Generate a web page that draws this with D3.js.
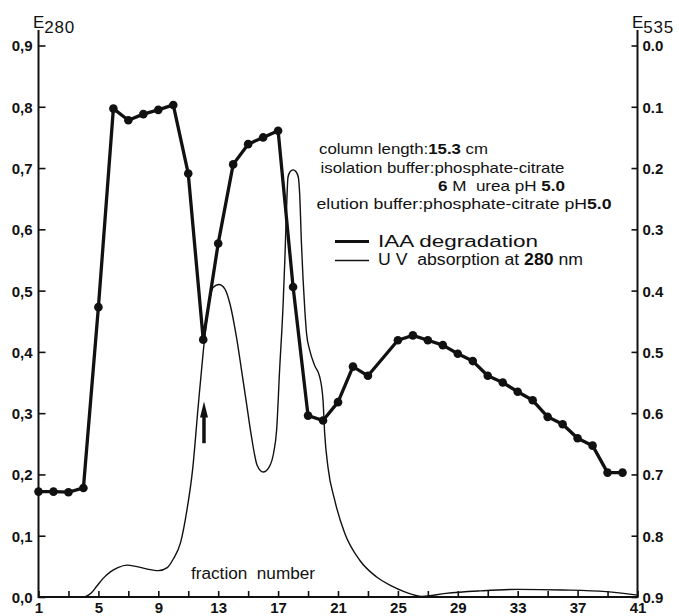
<!DOCTYPE html>
<html><head><meta charset="utf-8">
<script src="https://cdn.jsdelivr.net/npm/d3@7"></script>
<style>
body{margin:0;background:#fff}
svg{display:block}
text{font-family:"Liberation Sans",Arial,sans-serif;fill:#111;white-space:pre}
</style>
</head><body><svg id="c" width="679" height="616"></svg>
<script>
// ---- data ----
const fractionLabelTicks = [1,5,9,13,17,21,25,29,33,37,41];
const fractionMinorTicks = [1,3,5,7,9,11,13,15,17,19,21,23,25,27,29,31,33,35,37,39,41];
const e280Ticks = [0,0.1,0.2,0.3,0.4,0.5,0.6,0.7,0.8,0.9];
const e280Labels = ["0,0","0,1","0,2","0,3","0,4","0,5","0,6","0,7","0,8","0,9"];
const e535Ticks = [0,0.1,0.2,0.3,0.4,0.5,0.6,0.7,0.8,0.9];
const e535Labels = ["0.0","0.1","0.2","0.3","0.4","0.5","0.6","0.7","0.8","0.9"];

// IAA degradation (E535, right axis, inverted)
const iaaFraction = [1,2,3,4,5,6,7,8,9,10,11,12,13,14,15,16,17,18,19,20,21,22,23,25,26,27,28,29,30,31,32,33,34,35,36,37,38,39,40];
const iaaE535 = [0.728,0.728,0.729,0.722,0.427,0.103,0.122,0.112,0.105,0.097,0.209,0.480,0.323,0.194,0.161,0.150,0.139,0.394,0.604,0.612,0.582,0.524,0.539,0.481,0.473,0.481,0.489,0.503,0.515,0.539,0.550,0.565,0.579,0.606,0.618,0.641,0.653,0.697,0.697];

// UV absorption at 280 nm (E280, left axis)
const uvFraction = [4.1,4.5,4.9,5.3,5.8,6.3,6.9,7.5,8.2,9.0,9.6,10.0,10.5,10.9,11.3,11.66,12.0,12.33,12.66,13.05,13.44,13.78,14.22,14.56,14.89,15.22,15.6,16.0,16.4,16.7,16.9,17.1,17.33,17.45,17.56,17.66,17.8,18.0,18.2,18.35,18.44,18.56,18.66,18.78,18.9,19.11,19.44,19.78,20.0,20.11,20.33,20.78,21.45,22.45,23.56,24.5,25.5,26.6,28.2,30.5,33.1,36.0,38.9,41];
const uvE280 = [0,0.006,0.018,0.030,0.041,0.048,0.052,0.050,0.046,0.043,0.048,0.062,0.090,0.140,0.210,0.310,0.400,0.470,0.505,0.510,0.503,0.479,0.424,0.370,0.316,0.262,0.215,0.204,0.212,0.235,0.272,0.370,0.475,0.550,0.631,0.685,0.694,0.697,0.694,0.685,0.658,0.577,0.522,0.470,0.430,0.403,0.378,0.359,0.321,0.267,0.212,0.158,0.104,0.060,0.033,0.019,0.008,0.001,0.006,0.010,0.0125,0.0115,0.0087,0.003];

// arrow marker (fraction, E280 tip, E280 tail)
const arrowFraction = [12.05];
const arrowTip = [0.319];
const arrowTail = [0.251];

// ---- chart ----
const svg = d3.select("#c");
const x = d3.scaleLinear().domain([1,41]).range([38.5,637.5]);
const yL = d3.scaleLinear().domain([0,0.9]).range([597,45.5]);
const yR = d3.scaleLinear().domain([0,0.9]).range([45.5,597]);

// axes
const gL = svg.append("g").attr("transform","translate(38.5,0)")
  .call(d3.axisLeft(yL).tickValues(e280Ticks).tickSize(-7).tickPadding(6)
    .tickFormat((d,i)=>e280Labels[i]));
const gR = svg.append("g").attr("transform","translate(637.5,0)")
  .call(d3.axisRight(yR).tickValues(e535Ticks).tickSize(-6).tickPadding(5)
    .tickFormat((d,i)=>e535Labels[i]));
const gB = svg.append("g").attr("transform","translate(0,597)")
  .call(d3.axisBottom(x).tickValues(fractionMinorTicks).tickSize(-6).tickPadding(6)
    .tickFormat(d=>fractionLabelTicks.includes(d)?String(d):""));
[gL,gR,gB].forEach(g=>{
  g.select(".domain").remove();
  g.selectAll(".tick line").attr("stroke","#111").attr("stroke-width",1.6);
  g.selectAll(".tick text").attr("fill","#111").style("font-size","15px").style("font-weight","bold")
    .style("font-family","'Liberation Sans',Arial,sans-serif");
});
gL.selectAll(".tick text").attr("dy","0.36em");
gR.selectAll(".tick text").attr("dy","0.36em");
gB.selectAll(".tick text").attr("dy","0.68em");

// axis lines
svg.append("line").attr("x1",x(1)).attr("x2",x(1)).attr("y1",30).attr("y2",yL(0)+1).attr("stroke","#111").attr("stroke-width",2);
svg.append("line").attr("x1",x(41)).attr("x2",x(41)).attr("y1",30).attr("y2",yL(0)+1).attr("stroke","#111").attr("stroke-width",2);
svg.append("line").attr("x1",x(1)).attr("x2",x(41)).attr("y1",yL(0)).attr("y2",yL(0)).attr("stroke","#111").attr("stroke-width",2);

// axis titles
const t1 = svg.append("text").attr("x",33).attr("y",28).style("font-size","17px");
t1.append("tspan").text("E");
t1.append("tspan").attr("dy",5).style("font-size","17px").attr("letter-spacing","0.8px").text("280");
const t2 = svg.append("text").attr("x",632).attr("y",28).style("font-size","17px");
t2.append("tspan").text("E");
t2.append("tspan").attr("dy",5).style("font-size","17px").attr("letter-spacing","0.8px").text("535");

// UV curve
const uvData = uvFraction.map((f,i)=>({f, v:uvE280[i]}));
svg.append("path").datum(uvData)
  .attr("fill","none").attr("stroke","#111").attr("stroke-width",1.4)
  .attr("d", d3.line().x(d=>x(d.f)).y(d=>yL(d.v)).curve(d3.curveMonotoneX));

// IAA curve
const iaaData = iaaFraction.map((f,i)=>({f, v:iaaE535[i]}));
svg.append("path").datum(iaaData)
  .attr("fill","none").attr("stroke","#111").attr("stroke-width",3.3).attr("stroke-linejoin","round")
  .attr("d", d3.line().x(d=>x(d.f)).y(d=>yR(d.v)));
svg.append("g").selectAll("circle").data(iaaData).join("circle")
  .attr("cx",d=>x(d.f)).attr("cy",d=>yR(d.v)).attr("r",4.3).attr("fill","#111");

// arrow
arrowFraction.forEach((f,i)=>{
  const ax = x(f), tip = yL(arrowTip[i]), tail = yL(arrowTail[i]);
  svg.append("line").attr("x1",ax).attr("x2",ax).attr("y1",tip+10).attr("y2",tail)
    .attr("stroke","#111").attr("stroke-width",3.5);
  svg.append("path").attr("d",`M${ax},${tip} L${ax-4},${tip+16} L${ax+4},${tip+16} Z`).attr("fill","#111");
});

// annotation text
function line(xp, yp, parts, size, len){
  const t = svg.append("text").attr("x",xp).attr("y",yp).style("font-size",size+"px");
  parts.forEach(p=>{
    const s = t.append("tspan").text(p[0]);
    if(p[1]) s.style("font-weight","bold");
  });
  if(len) t.attr("textLength",len).attr("lengthAdjust","spacingAndGlyphs");
  return t;
}
line(319,154,[["column length:"],["15.3",1],[" cm"]],15,169);
line(320.5,172.5,[["isolation buffer:phosphate-citrate"]],15,244);
line(438,190.5,[["6",1],[" M  urea pH "],["5.0",1]],15,127);
line(316.5,208.5,[["elution buffer:phosphate-citrate pH"],["5.0",1]],15,295);

// legend
svg.append("line").attr("x1",335).attr("x2",369).attr("y1",241.5).attr("y2",241.5).attr("stroke","#111").attr("stroke-width",3);
svg.append("line").attr("x1",335).attr("x2",369).attr("y1",260.5).attr("y2",260.5).attr("stroke","#111").attr("stroke-width",1.4);
line(378,247,[["IAA degradation"]],16,160);
line(378,264.5,[["U V  absorption at "],["280",1],[" nm"]],16,205);

// x label
line(191,579,[["fraction  number"]],16,124);
</script></body></html>
